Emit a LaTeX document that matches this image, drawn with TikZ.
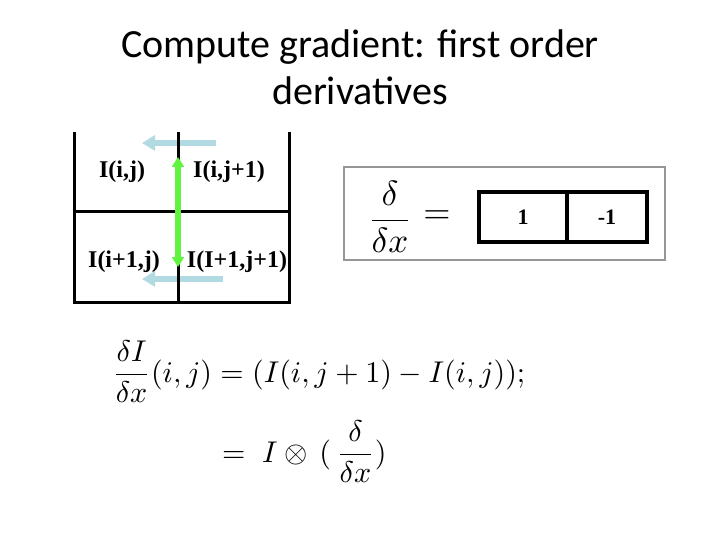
\documentclass[tikz,border=0pt]{standalone}
\usepackage{amsmath}
\usepackage{graphicx}
\usepackage{fontspec}
\setmainfont{Carlito}
\newfontfamily\timesfont{Liberation Serif}
\usetikzlibrary{arrows.meta}
\definecolor{arrowblue}{RGB}{178,218,226}
\definecolor{arrowgreen}{RGB}{96,244,64}
\definecolor{framegray}{RGB}{150,150,150}
\tikzset{
  gridline/.style={line width=3pt,black},
  titletext/.style={font=\fontsize{40}{48}\selectfont,anchor=base,inner sep=0pt},
  celllabel/.style={font=\timesfont\bfseries\fontsize{24}{28}\selectfont,inner sep=0pt},
  bluearrow/.style={line width=6.5pt,arrowblue,-{Triangle[width=15pt,length=13pt]}},
  greenarrow/.style={line width=6pt,arrowgreen,{Triangle[width=12pt,length=10pt]}-{Triangle[width=12pt,length=10pt]}},
  kernelbox/.style={draw,line width=4pt,minimum height=50pt,inner sep=0pt,font=\timesfont\bfseries\fontsize{22}{26}\selectfont},
  mathtext/.style={inner sep=0pt,font=\fontsize{10}{12}\selectfont}
}
\begin{document}
\begin{tikzpicture}[x=1pt,y=-1pt]
\useasboundingbox (0,0) rectangle (720,540);
% title
\node[titletext] (t1) at (360,58) {Compute gradient: first order};
\node[titletext] (t2) at (360,105) {derivatives};
% blue arrows (behind the grid)
\coordinate (bt1) at (216,143);
\coordinate (bt2) at (142,143);
\coordinate (bb1) at (223,279);
\coordinate (bb2) at (142,279);
\draw[bluearrow] (bt1) -- (bt2);
\draw[bluearrow] (bb1) -- (bb2);
% grid
\draw[gridline] (74,132) -- (74,303.5);
\draw[gridline] (178,132) -- (178,303.5);
\draw[gridline] (289,132) -- (289,303.5);
\draw[gridline] (72.5,211.5) -- (290.5,211.5);
\draw[gridline] (72.5,302) -- (290.5,302);
% labels
\node[celllabel] (a) at (122,172) {I(i,j)};
\node[celllabel] (b) at (229,172) {I(i,j+1)};
\node[celllabel] (c) at (124,262) {I(i+1,j)};
\node[celllabel] (d) at (237,262) {I(I+1,j+1)};
% green arrow
\coordinate (g1) at (178,157);
\coordinate (g2) at (178,267);
\draw[greenarrow] (g1) -- (g2);
% kernel frame
\draw[framegray,line width=2pt] (344,167) rectangle (665,260);
\node[mathtext] (frac) at (390,217) {\scalebox{3.5}{$\displaystyle\frac{\delta}{\delta x}$}};
\node[mathtext] (eq) at (437,217) {\scalebox{3.5}{$=$}};
\node[kernelbox,minimum width=88pt] (k1) at (523,217) {1};
\node[kernelbox,minimum width=80pt] (k2) at (607,217) {-1};
% formula
\node[mathtext,anchor=west] (f1) at (112,372) {\scalebox{3.0}{$\displaystyle\frac{\delta I}{\delta x}(i,j) = (I(i,j+1) - I(i,j));$}};
\node[mathtext,anchor=west] (f2) at (222,452) {\scalebox{3.0}{$\displaystyle =\; I \otimes\mskip3mu (\mskip3mu\frac{\delta}{\delta x})$}};
\end{tikzpicture}
\end{document}
